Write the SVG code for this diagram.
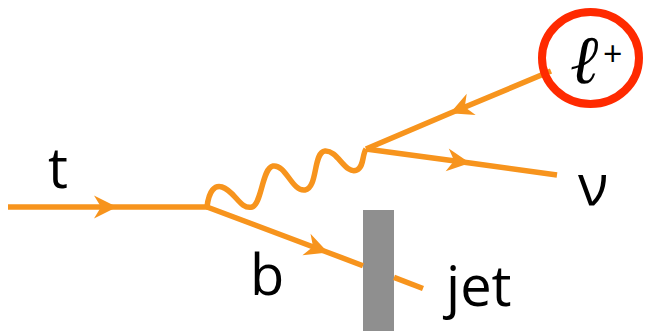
<svg xmlns="http://www.w3.org/2000/svg" width="650" height="331" viewBox="0 0 650 331">
<style>
.line{fill:none;stroke:#f7941d;stroke-width:5.5;stroke-linejoin:round}
.lbl{font-family:"Open Sans","Liberation Sans",sans-serif;font-size:56px;fill:#000}
</style>
<defs>
<marker id="arr" markerUnits="userSpaceOnUse" markerWidth="30" markerHeight="30" viewBox="-25 -15 30 30" refX="0" refY="0" orient="auto" overflow="visible">
<path d="M0,0 L-23,-11.5 L-16,0 L-23,11.5 Z" fill="#f7941d"/>
</marker>
</defs>
<rect id="detector" x="363" y="210" width="31" height="121" fill="#8f8f8f"/>
<g id="connectors">
<path id="t-line" class="line" d="M8,207 L117,207 L207,207" marker-mid="url(#arr)"/>
<path id="b-line" class="line" d="M207,207 L328,252.5 L363,265.7" marker-mid="url(#arr)"/>
<path id="b-jet" class="line" d="M394,277.4 L423,288.5"/>
<path id="w-line" class="line" d="M207,207 C209,190 215,185 222,187 C235,191 240,210 252,207 C262,204 262,168 273,166 C286,164 292,192 305,190 C318,188 313,152 325,151 C338,150 345,175 357,170 C364,167 362,155 366,149"/>
<path id="l-line" class="line" d="M551,71 L450,113.3 L366,149" marker-mid="url(#arr)"/>
<path id="nu-line" class="line" d="M366,149 L470,163 L557,175" marker-mid="url(#arr)"/>
</g>
<g id="lepton">
<ellipse cx="590.5" cy="58" rx="48.5" ry="46" fill="none" stroke="#ff2a00" stroke-width="8"/>
<text x="570" y="83" font-family="DejaVu Serif,serif" font-style="italic" font-size="68">ℓ</text>
<text x="603" y="66" font-family="Open Sans,sans-serif" font-size="34">+</text>
</g>
<g id="labels">
<text class="lbl" x="48" y="188">t</text>
<text class="lbl" x="250" y="295">b</text>
<text class="lbl" x="446" y="306">jet</text>
<text class="lbl" x="578" y="205">ν</text>
</g>
</svg>
